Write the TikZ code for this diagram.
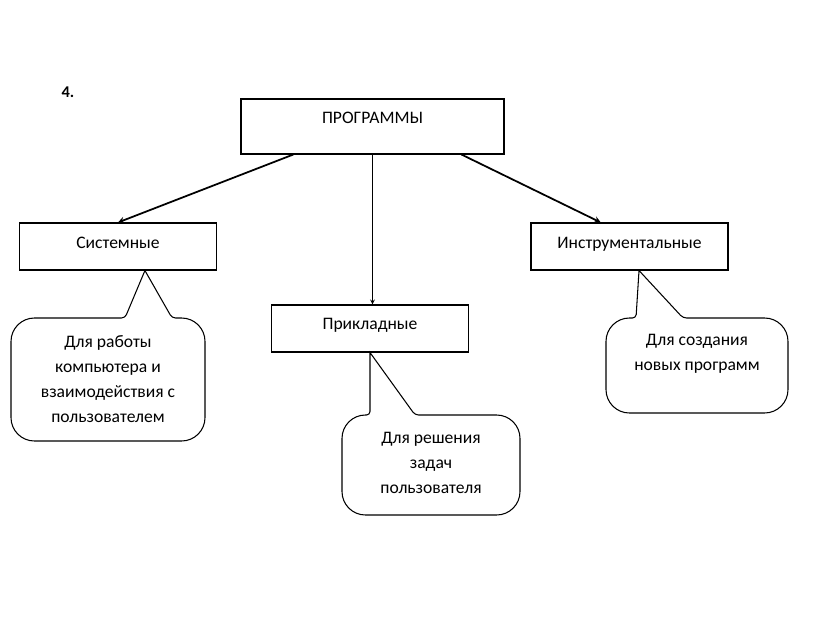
\documentclass[tikz,border=0pt]{standalone}
\usepackage{fontspec}
\setmainfont{Carlito}
\usepackage{tikz}
\usetikzlibrary{positioning,calc}

\begin{document}
\begin{tikzpicture}[
            x=0.03cm, y=-0.03cm,
            font=\fontsize{15}{18}\selectfont,
            box/.style={rectangle, draw, line width=0.9pt, minimum width=5.91cm, minimum height=1.41cm},
            callout/.style={draw, line width=0.9pt},
            note/.style={align=center, font=\fontsize{15}{21.5}\selectfont},
            auto
        ]
            \useasboundingbox (0,0) rectangle (840,617);
            \node[font=\bfseries\fontsize{14}{16}\selectfont] (num) at (68,92) {4.};
            \begin{scope}[
                every node/.style={box}
            ]
                % Boxes
                \node[minimum width=7.89cm, minimum height=1.65cm, text depth=0.5cm] (prog) at (372.5,126.5) {ПРОГРАММЫ};
                \node[text depth=0.2cm] (sys) at (118,246.5) {Системные};
                \node[text depth=0.25cm] (app) at (370,328.5) {Прикладные};
                \node[text depth=0.2cm] (ins) at (629.5,246.5) {Инструментальные};
            \end{scope}
            % Arrows
            \draw[-stealth, line width=1.5pt] ($(prog.south west)!0.2!(prog.south east)$) -- (sys.north);
            \draw[-stealth, line width=1.5pt] ($(prog.south west)!0.837!(prog.south east)$) -- ($(ins.north west)!0.355!(ins.north east)$);
            \draw[-stealth, line width=0.9pt] (prog.south) -- (prog.south |- app.north);
            % Callouts
            \coordinate (systip) at ($(sys.south west)!0.636!(sys.south east)$);
            \coordinate (apptip) at (app.south);
            \coordinate (instip) at ($(ins.south west)!0.548!(ins.south east)$);
            \node[note] (sysnote) at (108,379) {Для работы\\компьютера и\\взаимодействия с\\пользователем};
            \node[note] (appnote) at (431,463) {Для решения\\задач\\пользователя};
            \node[note] (insnote) at (697,354) {Для создания\\новых программ};
            \draw[callout, rounded corners=20pt] (11,380) -- (11,318) [rounded corners=3pt] -- (125,318) [sharp corners] -- (systip) [rounded corners=3pt] -- (172,318) [rounded corners=20pt] -- (205,318) -- (205,441) -- (11,441) -- cycle;
            \draw[callout, rounded corners=20pt] (342,465) -- (342,415) [rounded corners=3pt] -- (370,415) [sharp corners] -- (apptip) [rounded corners=3pt] -- (415,415) [rounded corners=20pt] -- (520,415) -- (520,515) -- (342,515) -- cycle;
            \draw[callout, rounded corners=20pt] (606,365) -- (606,318) [rounded corners=3pt] -- (636,318) [sharp corners] -- (instip) [rounded corners=3pt] -- (683,318) [rounded corners=20pt] -- (788,318) -- (788,413) -- (606,413) -- cycle;
        \end{tikzpicture}
\end{document}
